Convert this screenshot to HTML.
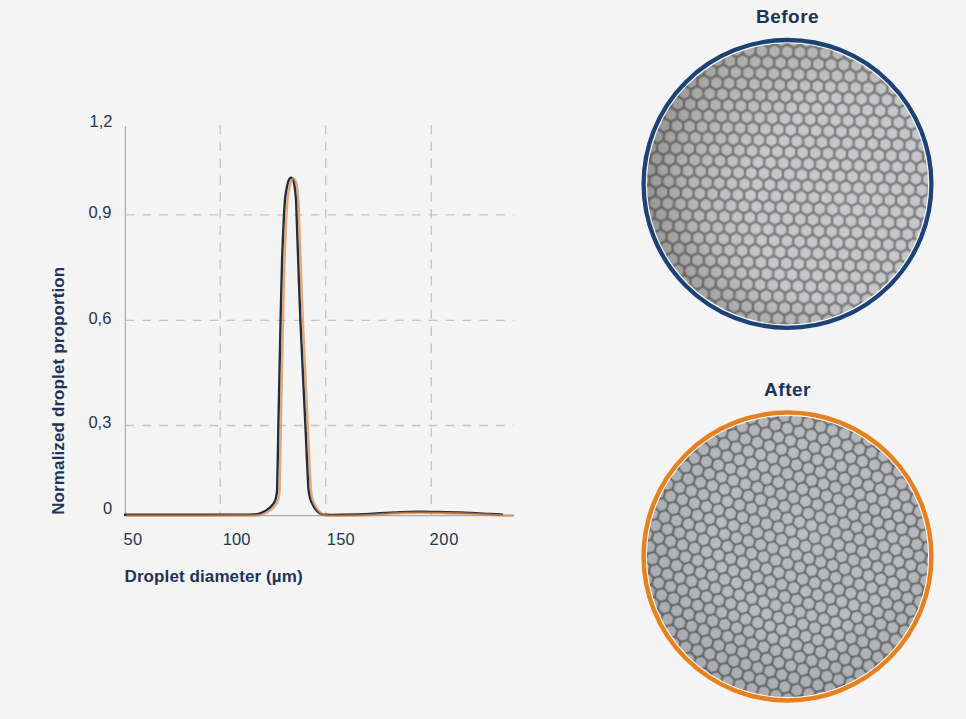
<!DOCTYPE html>
<html><head><meta charset="utf-8">
<style>
html,body{margin:0;padding:0;background:#f4f4f4;width:966px;height:719px;overflow:hidden}
svg{position:absolute;left:0;top:0}
text{font-family:"Liberation Sans",sans-serif}
</style></head>
<body>
<svg width="966" height="719" viewBox="0 0 966 719">
<defs>
  <pattern id="hexB" width="12.670" height="22.260" patternUnits="userSpaceOnUse" x="3" y="2" patternTransform="rotate(2)">
<rect width="12.670" height="22.260" fill="#82807e"/>
<polygon points="0.00,3.41 -2.95,1.70 -2.95,-1.70 -0.00,-3.41 2.95,-1.70 2.95,1.70" fill="#aeb0b3" stroke="#aeb0b3" stroke-width="5.0" stroke-linejoin="round"/>
<polygon points="0.00,2.25 -1.95,1.13 -1.95,-1.13 -0.00,-2.25 1.95,-1.13 1.95,1.13" fill="#c6c8cc" stroke="#c6c8cc" stroke-width="5.0" stroke-linejoin="round"/>
<polygon points="12.67,3.41 9.72,1.70 9.72,-1.70 12.67,-3.41 15.62,-1.70 15.62,1.70" fill="#aeb0b3" stroke="#aeb0b3" stroke-width="5.0" stroke-linejoin="round"/>
<polygon points="12.67,2.25 10.72,1.13 10.72,-1.13 12.67,-2.25 14.62,-1.13 14.62,1.13" fill="#c6c8cc" stroke="#c6c8cc" stroke-width="5.0" stroke-linejoin="round"/>
<polygon points="6.33,14.54 3.38,12.83 3.38,9.43 6.33,7.72 9.29,9.43 9.29,12.83" fill="#aeb0b3" stroke="#aeb0b3" stroke-width="5.0" stroke-linejoin="round"/>
<polygon points="6.33,13.38 4.38,12.26 4.38,10.00 6.33,8.88 8.29,10.00 8.29,12.26" fill="#c6c8cc" stroke="#c6c8cc" stroke-width="5.0" stroke-linejoin="round"/>
<polygon points="0.00,25.67 -2.95,23.96 -2.95,20.56 -0.00,18.85 2.95,20.56 2.95,23.96" fill="#aeb0b3" stroke="#aeb0b3" stroke-width="5.0" stroke-linejoin="round"/>
<polygon points="0.00,24.51 -1.95,23.39 -1.95,21.13 -0.00,20.01 1.95,21.13 1.95,23.39" fill="#c6c8cc" stroke="#c6c8cc" stroke-width="5.0" stroke-linejoin="round"/>
<polygon points="12.67,25.67 9.72,23.96 9.72,20.56 12.67,18.85 15.62,20.56 15.62,23.96" fill="#aeb0b3" stroke="#aeb0b3" stroke-width="5.0" stroke-linejoin="round"/>
<polygon points="12.67,24.51 10.72,23.39 10.72,21.13 12.67,20.01 14.62,21.13 14.62,23.39" fill="#c6c8cc" stroke="#c6c8cc" stroke-width="5.0" stroke-linejoin="round"/>
</pattern>
  <pattern id="hexA" width="12.500" height="21.650" patternUnits="userSpaceOnUse" patternTransform="rotate(16)">
<rect width="12.500" height="21.650" fill="#6d6e71"/>
<polygon points="0.00,3.41 -2.95,1.70 -2.95,-1.70 -0.00,-3.41 2.95,-1.70 2.95,1.70" fill="#a1a2a6" stroke="#a1a2a6" stroke-width="5.0" stroke-linejoin="round"/>
<polygon points="0.00,2.60 -2.25,1.30 -2.25,-1.30 -0.00,-2.60 2.25,-1.30 2.25,1.30" fill="#babbbf" stroke="#babbbf" stroke-width="5.0" stroke-linejoin="round"/>
<polygon points="12.50,3.41 9.55,1.70 9.55,-1.70 12.50,-3.41 15.45,-1.70 15.45,1.70" fill="#a1a2a6" stroke="#a1a2a6" stroke-width="5.0" stroke-linejoin="round"/>
<polygon points="12.50,2.60 10.25,1.30 10.25,-1.30 12.50,-2.60 14.75,-1.30 14.75,1.30" fill="#babbbf" stroke="#babbbf" stroke-width="5.0" stroke-linejoin="round"/>
<polygon points="6.25,14.23 3.30,12.53 3.30,9.12 6.25,7.42 9.20,9.12 9.20,12.53" fill="#a1a2a6" stroke="#a1a2a6" stroke-width="5.0" stroke-linejoin="round"/>
<polygon points="6.25,13.42 4.00,12.12 4.00,9.53 6.25,8.23 8.50,9.53 8.50,12.12" fill="#babbbf" stroke="#babbbf" stroke-width="5.0" stroke-linejoin="round"/>
<polygon points="0.00,25.06 -2.95,23.35 -2.95,19.95 -0.00,18.24 2.95,19.95 2.95,23.35" fill="#a1a2a6" stroke="#a1a2a6" stroke-width="5.0" stroke-linejoin="round"/>
<polygon points="0.00,24.25 -2.25,22.95 -2.25,20.35 -0.00,19.05 2.25,20.35 2.25,22.95" fill="#babbbf" stroke="#babbbf" stroke-width="5.0" stroke-linejoin="round"/>
<polygon points="12.50,25.06 9.55,23.35 9.55,19.95 12.50,18.24 15.45,19.95 15.45,23.35" fill="#a1a2a6" stroke="#a1a2a6" stroke-width="5.0" stroke-linejoin="round"/>
<polygon points="12.50,24.25 10.25,22.95 10.25,20.35 12.50,19.05 14.75,20.35 14.75,22.95" fill="#babbbf" stroke="#babbbf" stroke-width="5.0" stroke-linejoin="round"/>
</pattern>
  <radialGradient id="linB" cx="0.72" cy="0.56" r="0.85">
    <stop offset="0" stop-color="#fff" stop-opacity="0.04"/>
    <stop offset="0.4" stop-color="#2a1f10" stop-opacity="0"/>
    <stop offset="0.75" stop-color="#2a1f10" stop-opacity="0.16"/>
    <stop offset="1" stop-color="#2a1f10" stop-opacity="0.38"/>
  </radialGradient>
  <radialGradient id="vigB" cx="0.6" cy="0.45" r="0.62">
    <stop offset="0.7" stop-color="#000" stop-opacity="0"/>
    <stop offset="1" stop-color="#000" stop-opacity="0.1"/>
  </radialGradient>
  <radialGradient id="vigA" cx="0.56" cy="0.42" r="0.62">
    <stop offset="0" stop-color="#fff" stop-opacity="0.04"/>
    <stop offset="0.5" stop-color="#000" stop-opacity="0"/>
    <stop offset="1" stop-color="#000" stop-opacity="0.1"/>
  </radialGradient>
  <filter id="soft" x="0" y="0" width="1" height="1"><feGaussianBlur stdDeviation="0.45"/></filter>
  <clipPath id="clipB"><circle cx="787.5" cy="183.9" r="141"/></clipPath>
  <clipPath id="clipA"><circle cx="787.5" cy="556.5" r="141"/></clipPath>
</defs>

<!-- chart grid -->
<g stroke="#c4c4c4" stroke-width="1.3" stroke-dasharray="8.6 8.25" fill="none">
  <line x1="125.5" y1="214.9" x2="514" y2="214.9"/>
  <line x1="125.5" y1="320.3" x2="514" y2="320.3"/>
  <line x1="125.5" y1="425.5" x2="514" y2="425.5"/>
  <line x1="220.2" y1="125" x2="220.2" y2="515" stroke-dasharray="9.3 7.5"/>
  <line x1="325.7" y1="125" x2="325.7" y2="515" stroke-dasharray="9.3 7.5"/>
  <line x1="431.3" y1="125" x2="431.3" y2="515" stroke-dasharray="9.3 7.5"/>
</g>
<line x1="125.4" y1="126" x2="125.4" y2="516" stroke="#ababab" stroke-width="1.2"/>
<line x1="124" y1="515.6" x2="514" y2="515.6" stroke="#ababab" stroke-width="1.2"/>

<!-- curves -->
<!--CURVE-->
<path d="M124.00,514.70 C149.33,514.70 174.67,514.72 200.00,514.70 C215.00,514.69 230.00,514.68 245.00,514.60 C247.67,514.58 250.34,514.52 253.00,514.40 C254.77,514.32 256.58,514.43 258.30,514.00 C260.33,513.49 262.24,512.55 264.10,511.60 C265.65,510.81 267.12,509.85 268.50,508.80 C269.66,507.91 270.74,506.91 271.70,505.80 C272.85,504.46 274.04,503.09 274.80,501.50 C275.63,499.78 276.07,497.88 276.40,496.00 C276.87,493.36 277.12,490.68 277.20,488.00 C277.79,467.00 277.98,446.00 278.40,425.00 C279.11,390.00 279.82,355.00 280.60,320.00 C281.05,300.00 281.45,280.00 282.10,260.00 C282.59,244.99 283.31,230.00 284.00,215.00 C284.15,211.80 284.37,208.60 284.60,205.40 C284.80,202.60 284.97,199.79 285.30,197.00 C285.63,194.22 286.05,191.45 286.60,188.70 C287.15,185.97 287.56,183.18 288.60,180.60 C289.06,179.46 289.77,177.80 291.00,177.80 C292.25,177.80 293.08,179.42 293.50,180.60 C294.42,183.18 294.52,185.99 294.90,188.70 C295.29,191.46 295.57,194.23 295.80,197.00 C296.03,199.80 296.18,202.60 296.30,205.40 C296.44,208.60 296.49,211.80 296.60,215.00 C297.12,230.00 297.66,245.00 298.20,260.00 C298.92,280.00 299.53,300.01 300.40,320.00 C301.93,355.01 303.73,390.00 305.40,425.00 C306.40,446.00 307.16,467.01 308.40,488.00 C308.56,490.69 309.06,493.36 309.60,496.00 C309.97,497.80 310.38,499.61 311.10,501.30 C312.09,503.63 313.26,505.91 314.70,508.00 C315.95,509.81 317.42,511.49 319.10,512.90 C319.97,513.63 321.11,514.00 322.20,514.30 C323.43,514.64 324.72,514.76 326.00,514.80 C330.66,514.93 335.33,514.88 340.00,514.80 C350.00,514.62 360.01,514.45 370.00,514.00 C380.01,513.55 389.99,512.56 400.00,512.10 C406.66,511.79 413.33,511.69 420.00,511.70 C428.33,511.72 436.67,512.00 445.00,512.20 C453.33,512.40 461.67,512.59 470.00,512.90 C476.67,513.15 483.33,513.56 490.00,513.90 C494.33,514.12 498.67,514.37 503.00,514.60" fill="none" stroke="#1e2d40" stroke-width="2.4"/>
<path d="M124.00,514.70 C149.33,514.70 174.67,514.72 200.00,514.70 C215.00,514.69 230.00,514.68 245.00,514.60 C247.67,514.58 250.34,514.52 253.00,514.40 C254.77,514.32 256.58,514.43 258.30,514.00 C260.33,513.49 262.24,512.55 264.10,511.60 C265.65,510.81 267.12,509.85 268.50,508.80 C269.66,507.91 270.74,506.91 271.70,505.80 C272.85,504.46 274.04,503.09 274.80,501.50 C275.63,499.78 276.07,497.88 276.40,496.00 C276.87,493.36 277.12,490.68 277.20,488.00 C277.79,467.00 277.98,446.00 278.40,425.00 C279.11,390.00 279.82,355.00 280.60,320.00 C281.05,300.00 281.45,280.00 282.10,260.00 C282.59,244.99 283.31,230.00 284.00,215.00 C284.15,211.80 284.37,208.60 284.60,205.40 C284.80,202.60 284.97,199.79 285.30,197.00 C285.63,194.22 286.05,191.45 286.60,188.70 C287.15,185.97 287.56,183.18 288.60,180.60 C289.06,179.46 289.77,177.80 291.00,177.80 C292.25,177.80 293.08,179.42 293.50,180.60 C294.42,183.18 294.52,185.99 294.90,188.70 C295.29,191.46 295.57,194.23 295.80,197.00 C296.03,199.80 296.18,202.60 296.30,205.40 C296.44,208.60 296.49,211.80 296.60,215.00 C297.12,230.00 297.66,245.00 298.20,260.00 C298.92,280.00 299.53,300.01 300.40,320.00 C301.93,355.01 303.73,390.00 305.40,425.00 C306.40,446.00 307.16,467.01 308.40,488.00 C308.56,490.69 309.06,493.36 309.60,496.00 C309.97,497.80 310.38,499.61 311.10,501.30 C312.09,503.63 313.26,505.91 314.70,508.00 C315.95,509.81 317.42,511.49 319.10,512.90 C319.97,513.63 321.11,514.00 322.20,514.30 C323.43,514.64 324.72,514.76 326.00,514.80 C330.66,514.93 335.33,514.88 340.00,514.80 C350.00,514.62 360.01,514.45 370.00,514.00 C380.01,513.55 389.99,512.56 400.00,512.10 C406.66,511.79 413.33,511.69 420.00,511.70 C428.33,511.72 436.67,512.00 445.00,512.20 C453.33,512.40 461.67,512.59 470.00,512.90 C476.67,513.15 483.33,513.56 490.00,513.90 C494.33,514.12 498.67,514.37 503.00,514.60 L511.6,514.6" transform="translate(2.4,1)" fill="none" stroke="#d88a48" stroke-width="2.5" opacity="0.7"/>
<!--/CURVE-->
<!-- tick labels -->
<g fill="#26374f" font-size="16.5">
  <text x="89.6" y="127.1">1,2</text>
  <text x="88.4" y="218.3">0,9</text>
  <text x="88.4" y="324.2">0,6</text>
  <text x="88.4" y="428.4">0,3</text>
  <text x="103" y="513.7">0</text>
  <text x="123.6" y="545" letter-spacing="0.3">50</text>
  <text x="222.8" y="545">100</text>
  <text x="326.8" y="545" letter-spacing="0.2">150</text>
  <text x="429.6" y="545" letter-spacing="0.6">200</text>
</g>
<text x="124.5" y="581.7" font-size="17" font-weight="bold" fill="#1c3457" letter-spacing="0.1">Droplet diameter (µm)</text>
<text transform="translate(64,514.8) rotate(-90)" font-size="17" font-weight="bold" fill="#1c3457" letter-spacing="0.12">Normalized droplet proportion</text>

<!-- Before -->
<text x="787.5" y="22.8" font-size="19" font-weight="bold" fill="#1c3457" text-anchor="middle" letter-spacing="0.5">Before</text>
<g clip-path="url(#clipB)">
  <rect x="640" y="36" width="296" height="296" fill="url(#hexB)" filter="url(#soft)"/>
  <rect x="640" y="36" width="296" height="296" fill="url(#linB)"/>
  <rect x="640" y="36" width="296" height="296" fill="url(#vigB)"/>
</g>
<circle cx="787.5" cy="183.9" r="141.3" fill="none" stroke="#f6f8fa" stroke-width="1.5"/>
<circle cx="787.5" cy="183.9" r="143.9" fill="none" stroke="#1d4275" stroke-width="4.3"/>

<!-- After -->
<text x="787.5" y="395.7" font-size="19" font-weight="bold" fill="#1c3457" text-anchor="middle" letter-spacing="0.5">After</text>
<g clip-path="url(#clipA)">
  <rect x="640" y="409" width="296" height="296" fill="url(#hexA)" filter="url(#soft)"/>
  <rect x="640" y="409" width="296" height="296" fill="url(#vigA)"/>
</g>
<circle cx="787.5" cy="556.5" r="141.3" fill="none" stroke="#faf6f0" stroke-width="1.5"/>
<circle cx="787.5" cy="556.5" r="143.9" fill="none" stroke="#e5821f" stroke-width="4.5"/>
</svg>
</body></html>
